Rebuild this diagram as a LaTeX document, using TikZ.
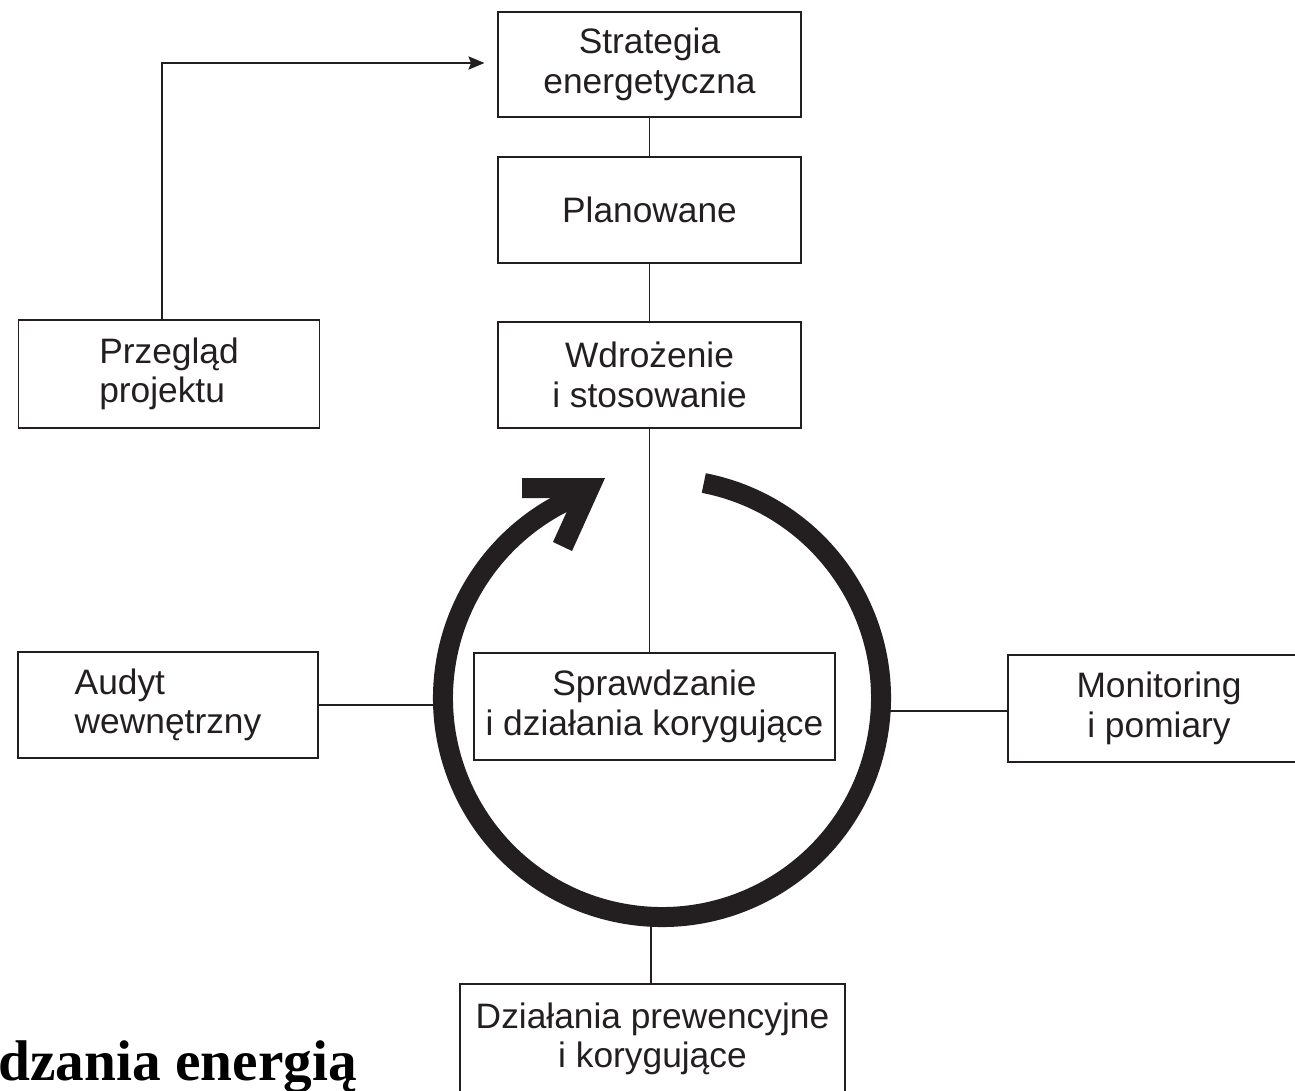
\documentclass[tikz,border=0pt]{standalone}
\usepackage{fontspec}
\setmainfont{Liberation Sans}
\newfontfamily\titlefont{Liberation Serif}
\definecolor{ink}{RGB}{35,31,32}
\usetikzlibrary{arrows.meta,positioning,calc}

\begin{document}
\begin{tikzpicture}[x=0.75pt,y=0.75pt,yscale=-1,xscale=1,
	box/.style={draw=ink, line width=0.9pt, text=ink, align=center, font=\fontsize{26.5}{29.5}\selectfont},
	link/.style={draw=ink, line width=0.8pt}]
	\useasboundingbox (0,0) rectangle (1295,1090);
	
	%Shape: Boxes
	\node [box, minimum width=227.25pt, minimum height=78.75pt] (strat) at (649.5,64.5) {Strategia\\energetyczna};
	\node [box, minimum width=227.25pt, minimum height=79.5pt] (plan) at (649.5,210) {Planowane};
	\node [box, minimum width=227.25pt, minimum height=79.5pt] (wdroz) at (649.5,375) {Wdrożenie\\i stosowanie};
	\node [box, align=left, minimum width=225.75pt, minimum height=81pt] (przeg) at (169,374) {Przegląd\\projektu};
	\node [box, align=left, minimum width=225pt, minimum height=79.5pt] (audyt) at (168,705) {Audyt\\wewnętrzny};
	\node [box, minimum width=270.75pt, minimum height=80.25pt] (sprawdz) at (654.5,706.5) {Sprawdzanie\\i działania korygujące};
	\node [box, minimum width=226.5pt, minimum height=80.25pt] (monit) at (1159,708.5) {Monitoring\\i pomiary};
	\node [box, minimum width=288.75pt, minimum height=82.5pt] (dzial) at (652.5,1039) {Działania prewencyjne\\i korygujące};
	
	%Shape: Cycle arrow
	\coordinate (cyc) at (662,698);
	\draw [ink, line width=15pt] (cyc) ++(-79:219) arc[start angle=-79, end angle=246, radius=219];
	\fill [ink] (522,478) -- (605,478) -- (572,551) -- (553,542) -- (573,498) -- (522,498) -- cycle;
	\coordinate (cl) at (436,705);
	\coordinate (cr) at (890,711);
	\coordinate (cb) at (651,926);
	
	%Straight Lines
	\draw [link] (strat.south) -- (plan.north);
	\draw [link] (plan.south) -- (wdroz.north);
	\draw [link] (wdroz.south) -- (wdroz.south |- sprawdz.north);
	\coordinate (feed) at ($(strat.west)+(-13,-1.5)$);
	\draw [link, -{Stealth[length=12pt,width=10pt,inset=2pt]}] ($(przeg.north)+(-7,0)$) |- (feed);
	\draw [link] ($(przeg.south)+(-7,0)$) -- ($(przeg.south)+(-7,0)$ |- audyt.north);
	\draw [link] (audyt.east) -- (cl);
	\draw [link] (cr) -- (cr -| monit.west);
	\draw [link] (cb) -- (cb |- dzial.north);
	
	% Text Node
	\node [anchor=base east, text=black, font=\titlefont\bfseries\fontsize{43}{50}\selectfont, inner sep=0pt] (title) at (357,1080) {dzania energią};
\end{tikzpicture}
\end{document}
